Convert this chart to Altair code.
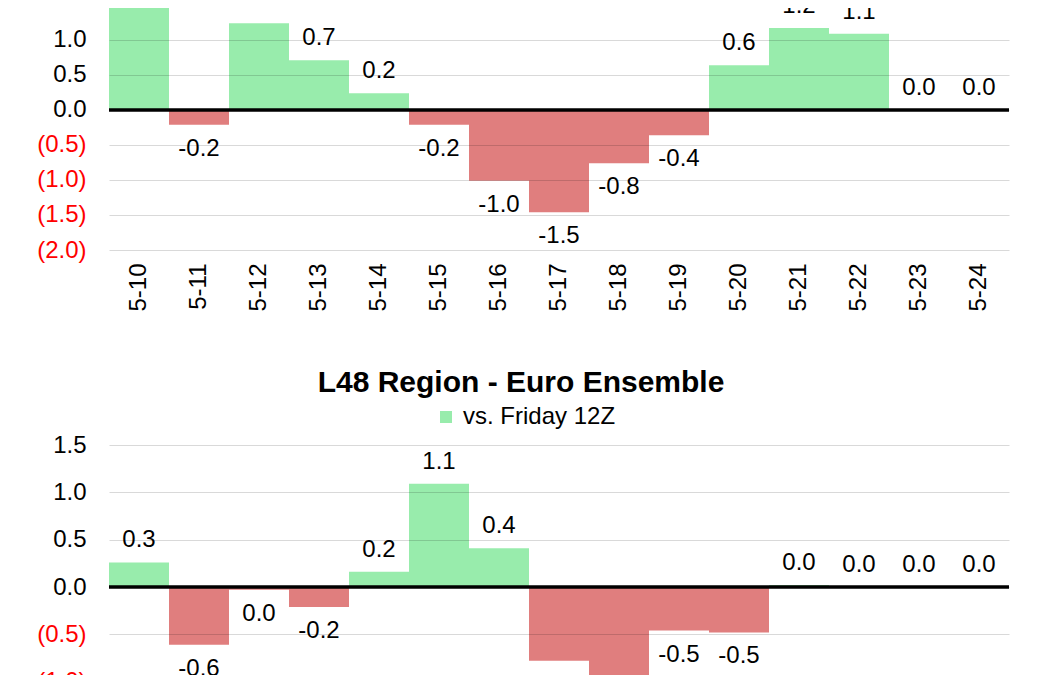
import altair as alt
import pandas as pd

dates = ["5-10", "5-11", "5-12", "5-13", "5-14", "5-15", "5-16", "5-17",
         "5-18", "5-19", "5-20", "5-21", "5-22", "5-23", "5-24"]
top_values = [1.8, -0.21, 1.24, 0.71, 0.24, -0.21, -1.01, -1.46,
              -0.76, -0.36, 0.64, 1.17, 1.09, 0.0, 0.0]
bottom_values = [0.26, -0.61, -0.03, -0.21, 0.16, 1.09, 0.41, -0.78,
                 -0.98, -0.46, -0.48, 0.02, 0.0, 0.0, 0.0]
series_name = "vs. Friday 12Z"
bottom_title = "L48 Region - Euro Ensemble"
top_ticks = [-2.0, -1.5, -1.0, -0.5, 0.0, 0.5, 1.0]
bottom_ticks = [-1.5, -1.0, -0.5, 0.0, 0.5, 1.0, 1.5]

GREEN = "#98ECAC"
RED = "#E07E7E"
FONT = "Liberation Sans"


def panel(values, domain, height, ticks, with_legend):
    df = pd.DataFrame({"date": dates, "value": values, "series": series_name})
    base = alt.Chart(df).transform_calculate(
        label="abs(datum.value) < 0.05 ? '0.0' : replace(format(datum.value, '.1f'), '\u2212', '-')"
    )
    x = alt.X(
        "date:N", sort=dates,
        scale=alt.Scale(paddingInner=0, paddingOuter=0),
        axis=alt.Axis(labelAngle=270, labelFontSize=24, labelFont=FONT,
                      labelColor="black", labelPadding=13, domain=False,
                      ticks=False, title=None, grid=False),
    )
    y = alt.Y(
        "value:Q",
        scale=alt.Scale(domain=domain, nice=False, zero=False),
        axis=alt.Axis(
            values=ticks,
            labelExpr="datum.value < 0 ? '(' + format(-datum.value, '.1f') + ')' : format(datum.value, '.1f')",
            labelColor={"condition": {"test": "datum.value < 0", "value": "#FF0000"}, "value": "#000000"},
            labelFontSize=24, labelFont=FONT, labelPadding=23,
            grid=True, gridColor="black", gridOpacity=0.15, gridWidth=1,
            domain=False, ticks=False, tickSize=0, title=None, zindex=1,
        ),
    )
    if with_legend:
        color = alt.condition(
            "datum.value < 0", alt.value(RED),
            alt.Color("series:N", scale=alt.Scale(range=[GREEN]),
                      legend=alt.Legend(orient="none", legendX=325, legendY=-40,
                                        title=None, symbolType="square",
                                        symbolSize=144, symbolStrokeWidth=0,
                                        labelFontSize=24, labelFont=FONT,
                                        labelColor="black", labelOffset=5,
                                        padding=0, symbolOpacity=1)),
        )
    else:
        color = alt.condition("datum.value < 0", alt.value(RED), alt.value(GREEN))

    bars = base.mark_bar(clip=True, opacity=1).encode(
        x=x, y=y, y2=alt.datum(0), color=color
    )
    zero = alt.Chart(pd.DataFrame({"zero": [0.0]})).mark_rule(
        color="black", strokeWidth=3.5
    ).encode(y="zero:Q")
    pos_text = base.transform_filter("datum.value >= 0").mark_text(
        clip=True, dy=-22, fontSize=24, font=FONT, baseline="middle", color="black"
    ).encode(x=x, y=y, text="label:N")
    neg_text = base.transform_filter("datum.value < 0").mark_text(
        clip=True, dy=24, fontSize=24, font=FONT, baseline="middle", color="black"
    ).encode(x=x, y=y, text="label:N")
    return alt.layer(bars, zero, pos_text, neg_text).properties(width=900, height=height)


top = panel(top_values, [-2.0, 1.4571], 242, top_ticks, False)
bottom = panel(bottom_values, [-1.5, 1.5], 284, bottom_ticks, True).properties(
    title=alt.TitleParams(bottom_title, fontSize=30, fontWeight="bold", font=FONT,
                          anchor="middle", dx=-38, color="black", offset=7)
)

chart = alt.vconcat(top, bottom, spacing=56).resolve_scale(
    x="independent", y="independent", color="independent"
).properties(
    padding={"left": 28, "top": 0, "right": 0, "bottom": 0},
    background="white",
).configure_view(strokeWidth=0, stroke="transparent")

chart.save("out.html", embed_options={"renderer": "svg", "actions": False})
